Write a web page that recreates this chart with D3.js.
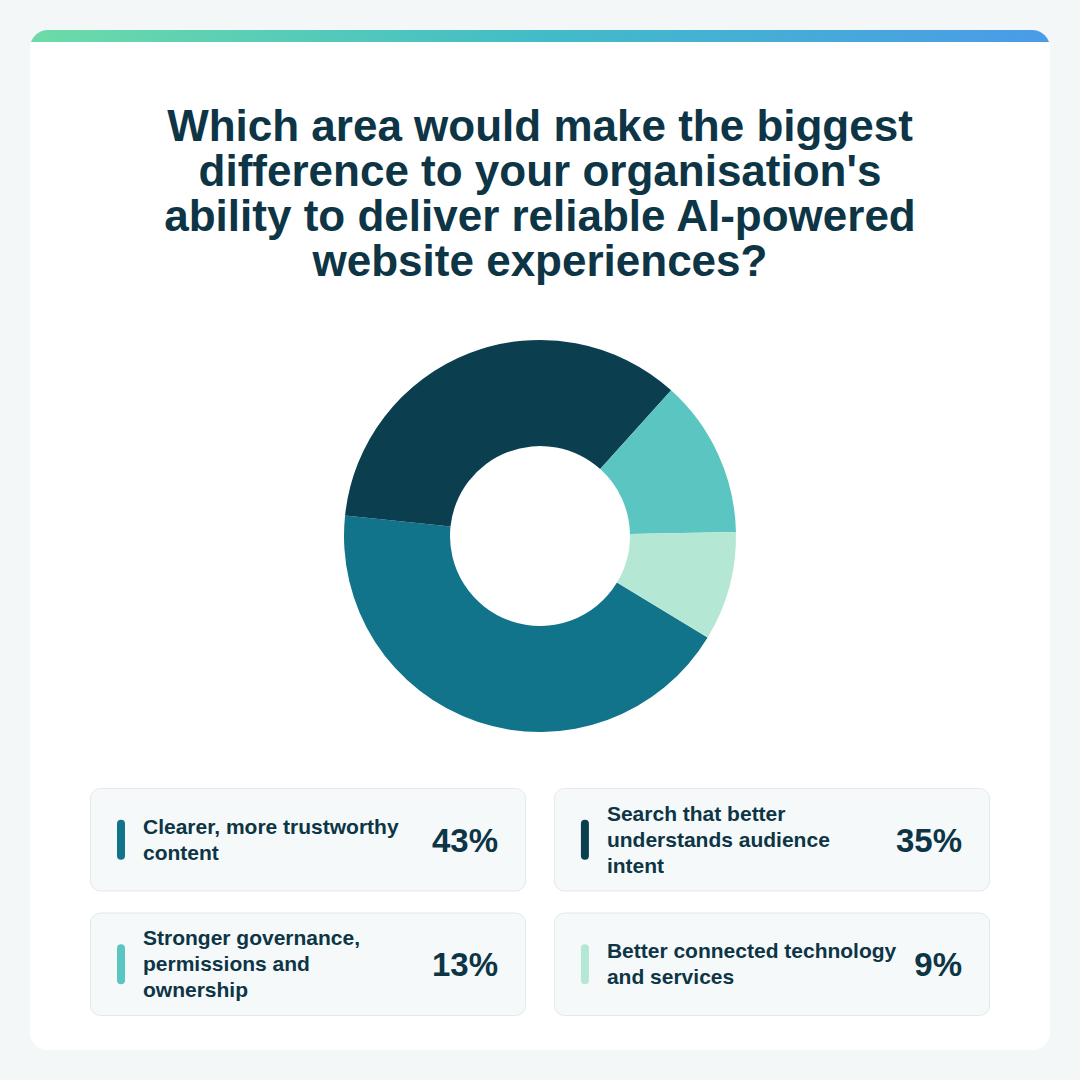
<!DOCTYPE html>
<html>
<head>
<meta charset="utf-8">
<script src="https://cdn.jsdelivr.net/npm/d3@7"></script>
<style>
  html, body { margin: 0; padding: 0; background: #f3f7f7; }
  svg { display: block; font-family: "Liberation Sans", Arial, sans-serif; }
</style>
</head>
<body>
<svg id="chart" width="1080" height="1080"></svg>
<script>
// survey answers, in the order they run round the donut
var labels = [
  ["Clearer, more trustworthy", "content"],
  ["Search that better", "understands audience", "intent"],
  ["Stronger governance,", "permissions and", "ownership"],
  ["Better connected technology", "and services"]
];
var values = [43, 35, 13, 9];
var colours = ["#11748a", "#0b3f50", "#5bc6c1", "#b5e8d4"];
var titleLines = [
  "Which area would make the biggest",
  "difference to your organisation's",
  "ability to deliver reliable AI-powered",
  "website experiences?"
];

var ink = "#0d3545";
var svg = d3.select("#chart");

var defs = svg.append("defs");
var grad = defs.append("linearGradient").attr("id", "topbar");
grad.append("stop").attr("offset", "0%").attr("stop-color", "#6ddba8");
grad.append("stop").attr("offset", "50%").attr("stop-color", "#42bcc8");
grad.append("stop").attr("offset", "100%").attr("stop-color", "#4a9be8");
defs.append("clipPath").attr("id", "cardclip")
  .append("rect").attr("x", 30).attr("y", 30).attr("width", 1020).attr("height", 1020).attr("rx", 18);

// white card with gradient strip along the top
var card = svg.append("g").attr("clip-path", "url(#cardclip)");
card.append("rect").attr("x", 30).attr("y", 30).attr("width", 1020).attr("height", 1020).attr("fill", "#fff");
card.append("rect").attr("x", 30).attr("y", 30).attr("width", 1020).attr("height", 12).attr("fill", "url(#topbar)");

svg.append("text")
  .attr("text-anchor", "middle")
  .attr("font-size", 44).attr("font-weight", 700).attr("fill", ink)
  .selectAll("tspan").data(titleLines).join("tspan")
  .attr("x", 540).attr("y", function (d, i) { return 141 + i * 45; })
  .text(function (d) { return d; });

// donut
var start = 121.2 * Math.PI / 180;
var pie = d3.pie().sort(null).startAngle(start).endAngle(start + 2 * Math.PI);
var arc = d3.arc().innerRadius(90).outerRadius(196);
svg.append("g").attr("transform", "translate(540,536)")
  .selectAll("path").data(pie(values)).join("path")
  .attr("d", arc)
  .attr("fill", function (d, i) { return colours[i]; });

// legend cards, 2x2
var cx = d3.scaleBand().domain([0, 1]).range([90, 990]).paddingInner(0.06);
var cy = d3.scaleBand().domain([0, 1]).range([788, 1016]).paddingInner(0.169);

var items = svg.append("g").selectAll("g").data(values).join("g")
  .attr("transform", function (d, i) { return "translate(" + cx(i % 2) + "," + cy(Math.floor(i / 2)) + ")"; });

items.append("rect")
  .attr("x", 0.5).attr("y", 0.5)
  .attr("width", cx.bandwidth() - 1).attr("height", cy.bandwidth() - 1)
  .attr("rx", 10)
  .attr("fill", "#f5f9fa").attr("stroke", "#e1e9eb");

items.append("rect")
  .attr("x", 27).attr("y", cy.bandwidth() / 2 - 20)
  .attr("width", 8).attr("height", 40).attr("rx", 4)
  .attr("fill", function (d, i) { return colours[i]; });

items.append("text")
  .attr("font-size", 21).attr("font-weight", 700).attr("fill", ink)
  .each(function (d, i) {
    var lines = labels[i];
    var top = cy.bandwidth() / 2 - (lines.length - 1) * 13 + 7;
    d3.select(this).selectAll("tspan").data(lines).join("tspan")
      .attr("x", 53).attr("y", function (l, k) { return top + k * 26; })
      .text(function (l) { return l; });
  });

items.append("text")
  .attr("x", cx.bandwidth() - 28).attr("y", cy.bandwidth() / 2 + 12)
  .attr("text-anchor", "end")
  .attr("font-size", 33).attr("font-weight", 700).attr("fill", ink)
  .text(function (d) { return d + "%"; });
</script>
</body>
</html>
